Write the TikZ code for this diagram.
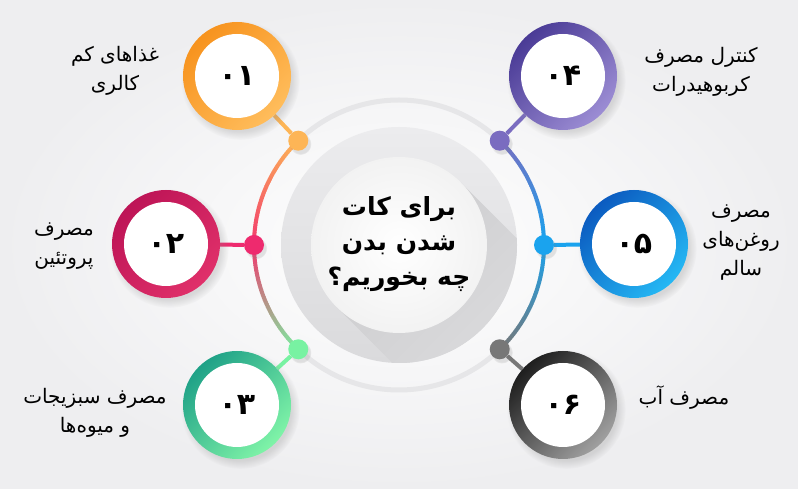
\documentclass[tikz,border=0pt]{standalone}
\usepackage{fontspec}
\usetikzlibrary{shadows,calc}
\TeXXeTstate=1
\newfontfamily\fa[Script=Arabic]{DejaVu Sans}
\definecolor{bgc}{HTML}{EEEEF0}
\definecolor{arcgray}{HTML}{E6E6E8}
\definecolor{diskA}{HTML}{ECECEE}
\definecolor{diskB}{HTML}{DADADC}
\definecolor{shad}{HTML}{CDCDCF}
\definecolor{ringAa}{HTML}{F7931E}\definecolor{ringAb}{HTML}{FFBD5C}
\definecolor{ringBa}{HTML}{BD1456}\definecolor{ringBb}{HTML}{E0306A}
\definecolor{ringCa}{HTML}{1FA187}\definecolor{ringCb}{HTML}{80F4A8}
\definecolor{ringDa}{HTML}{4A3B96}\definecolor{ringDb}{HTML}{9C8DD4}
\definecolor{ringEa}{HTML}{0B5BC0}\definecolor{ringEb}{HTML}{25B8F4}
\definecolor{ringFa}{HTML}{1E1E1E}\definecolor{ringFb}{HTML}{A0A0A0}
\definecolor{dotA}{HTML}{FDB556}
\definecolor{dotB}{HTML}{EE2A6E}
\definecolor{dotC}{HTML}{78F2A2}
\definecolor{dotD}{HTML}{7A6CC0}
\definecolor{dotE}{HTML}{1AA3EE}
\definecolor{dotF}{HTML}{777777}
\definecolor{arcMidL}{HTML}{F2386E}
\pgfdeclarelayer{back}
\pgfdeclarelayer{links}
\pgfsetlayers{back,links,main}
\tikzset{
  ring/.style 2 args={circle, minimum size=108pt, inner sep=0pt, shading=axis,
    top color=#1, bottom color=#2, shading angle=45,
    circular drop shadow={shadow xshift=3pt, shadow yshift=-4pt, opacity=0.25}},
  hole/.style={circle, minimum size=84pt, inner sep=0pt, fill=white,
    font=\fa\bfseries\fontsize{30}{32}\selectfont},
  dotnode/.style={circle, minimum size=20pt, inner sep=0pt, fill=#1,
    circular drop shadow={shadow xshift=2pt, shadow yshift=-3pt, opacity=0.2}},
  link/.style={line width=4pt, draw=#1},
  label/.style={align=center, font=\fa\fontsize{20}{29}\selectfont, text=black},
}
\begin{document}
\begin{tikzpicture}[x=1pt,y=1pt]
\useasboundingbox (0,0) rectangle (798,489);
\begin{pgfonlayer}{back}
\shade[inner color=white, outer color=bgc] (0,0) rectangle (798,489);
\end{pgfonlayer}
\coordinate (C) at (399,244);
% light gray arcs top and bottom
\draw[line width=5pt, arcgray] (C) ++(46:145) arc (46:134:145);
\draw[line width=5pt, arcgray] (C) ++(226:145) arc (226:314:145);
% left gradient arc
\foreach \a in {134,...,225}{
  \ifnum\a<180
    \pgfmathtruncatemacro\t{(\a-134)/46*100}
    \draw[line width=4pt, draw=arcMidL!\t!dotA] (C) ++(\a:145) arc (\a:\a+1.2:145);
  \else
    \pgfmathtruncatemacro\t{(\a-180)/46*100}
    \draw[line width=4pt, draw=dotC!\t!arcMidL] (C) ++(\a:145) arc (\a:\a+1.2:145);
  \fi
}
% right gradient arc
\foreach \a in {-46,...,45}{
  \ifnum\a<0
    \pgfmathtruncatemacro\t{(\a+46)/46*100}
    \draw[line width=4pt, draw=dotE!\t!dotF] (C) ++(\a:145) arc (\a:\a+1.2:145);
  \else
    \pgfmathtruncatemacro\t{(\a)/46*100}
    \draw[line width=4pt, draw=dotD!\t!dotE] (C) ++(\a:145) arc (\a:\a+1.2:145);
  \fi
}
% central disk
\shade[top color=diskA, bottom color=diskB] (C) circle (118);
\begin{scope}
  \clip (C) circle (118);
  \shade[left color=shad, right color=diskB!60!diskA, shading angle=45]
    ($(C)+(45:88)$) -- ++(-45:200) -- ++(-135:176) -- ($(C)+(225:88)$) -- cycle;
\end{scope}
\shade[inner color=white, outer color=white!95!black] (C) circle (88);
\node[align=center, font=\fa\bfseries\fontsize{25}{35}\selectfont] (title) at (399,245)
  {\beginR برای کات\endR\\\beginR شدن بدن\endR\\\beginR چه بخوریم؟\endR};
% dots
\node[dotnode=dotA] (d1) at ($(C)+(134:145)$) {};
\node[dotnode=dotB] (d2) at ($(C)+(180:145)$) {};
\node[dotnode=dotC] (d3) at ($(C)+(226:145)$) {};
\node[dotnode=dotD] (d4) at ($(C)+(46:145)$) {};
\node[dotnode=dotE] (d5) at ($(C)+(0:145)$) {};
\node[dotnode=dotF] (d6) at ($(C)+(-46:145)$) {};
% numbered rings
\node[ring={ringAa}{ringAb}] (r1) at (237,413) {};
\node[ring={ringBa}{ringBb}] (r2) at (166,245) {};
\node[ring={ringCa}{ringCb}] (r3) at (237,84) {};
\node[ring={ringDa}{ringDb}] (r4) at (563,413) {};
\node[ring={ringEa}{ringEb}] (r5) at (634,245) {};
\node[ring={ringFa}{ringFb}] (r6) at (563,84) {};
\node[hole] (h1) at (r1) {۰۱};
\node[hole] (h2) at (r2) {۰۲};
\node[hole] (h3) at (r3) {۰۳};
\node[hole] (h4) at (r4) {۰۴};
\node[hole] (h5) at (r5) {۰۵};
\node[hole] (h6) at (r6) {۰۶};
\begin{pgfonlayer}{links}
\draw[link=dotA] (r1) -- (d1);
\draw[link=dotB] (r2) -- (d2);
\draw[link=dotC] (r3) -- (d3);
\draw[link=dotD] (r4) -- (d4);
\draw[link=dotE] (r5) -- (d5);
\draw[link=dotF] (r6) -- (d6);
\end{pgfonlayer}
% labels
\node[label] (l1) at (115,418) {\beginR غذاهای کم\endR\\\beginR کالری\endR};
\node[label] (l2) at (64,243) {\beginR مصرف\endR\\\beginR پروتئین\endR};
\node[label] (l3) at (95,76) {\beginR مصرف سبزیجات\endR\\\beginR و میوه‌ها\endR};
\node[label] (l4) at (701,417) {\beginR کنترل مصرف\endR\\\beginR کربوهیدرات\endR};
\node[label] (l5) at (741,246) {\beginR مصرف\endR\\\beginR روغن‌های\endR\\\beginR سالم\endR};
\node[label] (l6) at (684,91) {\beginR مصرف آب\endR};
\end{tikzpicture}
\end{document}
